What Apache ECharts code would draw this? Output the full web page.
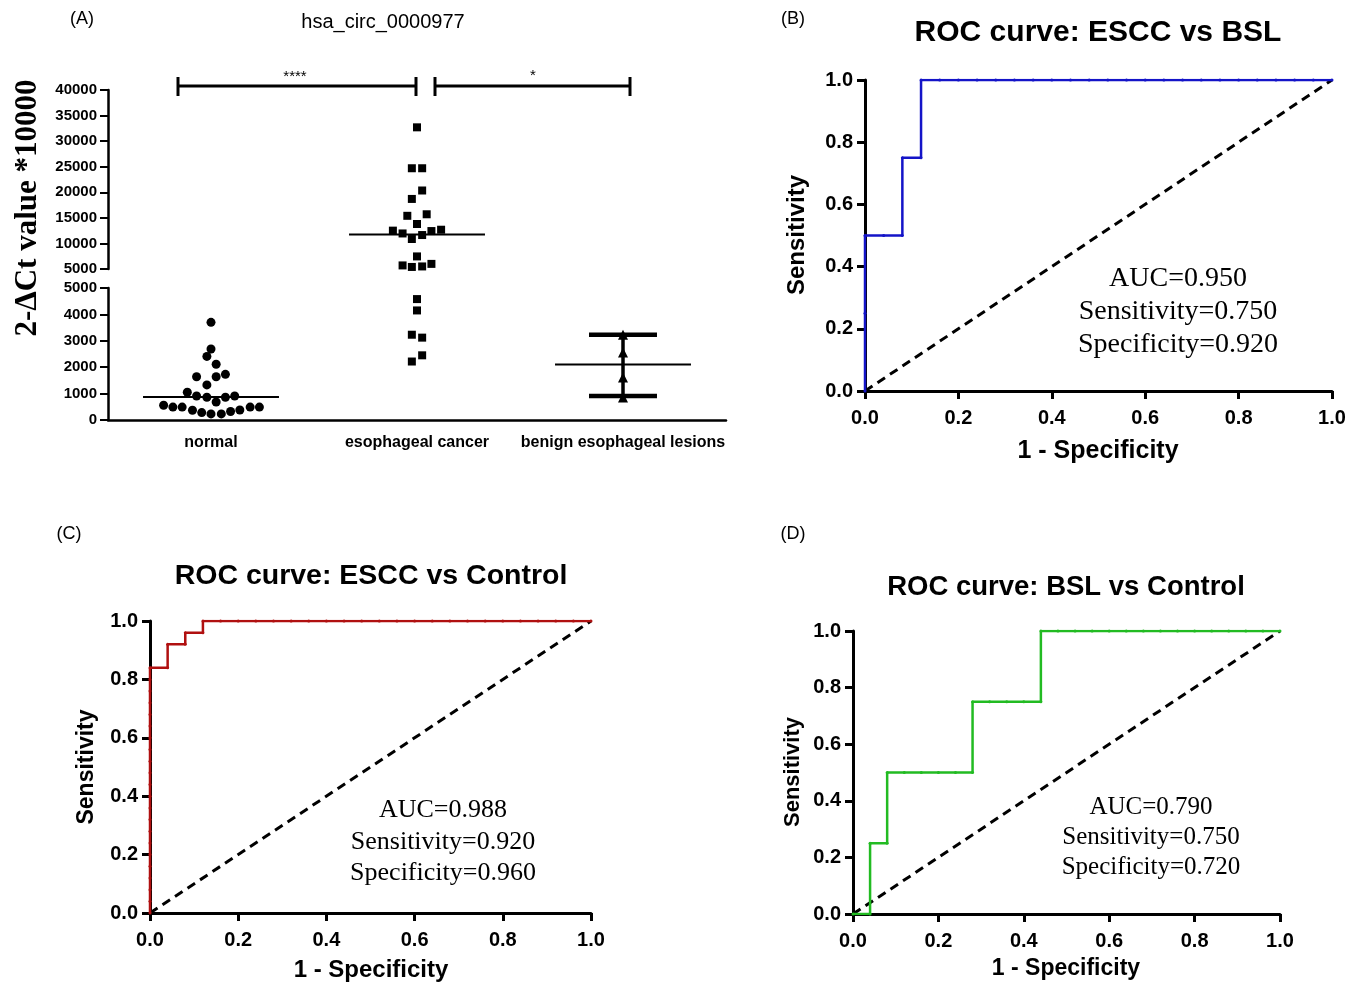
<!DOCTYPE html>
<html>
<head>
<meta charset="utf-8">
<script src="https://cdn.jsdelivr.net/npm/echarts@6/dist/echarts.min.js"></script>
<style>
html, body { margin: 0; padding: 0; background: #fff; }
#chart { width: 1359px; height: 984px; }
</style>
</head>
<body>
<div id="chart"></div>
<script>
// panel A: expression per group (jitter = horizontal offset inside the group column)
const groups = ['normal', 'esophageal cancer', 'benign esophageal lesions']
const normalValues = [3700, 2690, 2410, 2110, 1640, 1640, 1730, 1330, 1050, 910, 860, 860, 910, 680,
  560, 490, 490, 370, 280, 230, 230, 320, 380, 490, 490]
const normalJitter = [0, 0, -0.02, 0.025, -0.07, 0.025, 0.07, -0.02, -0.115, -0.07, -0.02, 0.07, 0.115, 0.025,
  -0.23, -0.185, -0.14, -0.09, -0.045, 0, 0.05, 0.095, 0.14, 0.19, 0.235]
const cancerValues = [32700, 24700, 24700, 20350, 18700, 15400, 15700, 13800, 12500, 11950, 10860, 11640, 12420,
  12680, 7460, 5700, 5400, 5500, 6000, 4580, 4150, 3230, 3120, 2450, 2215]
const cancerJitter = [0, -0.025, 0.025, 0.025, -0.025, -0.047, 0.047, 0, -0.117, -0.07, -0.025, 0.025, 0.07,
  0.117, 0, -0.07, -0.025, 0.025, 0.07, 0, 0, -0.025, 0.025, 0.025, -0.025]
const benignValues = [3230, 2555, 1610, 855]
const groupCenters = [870, 11760, 2100] // median, median, mean
const benignSD = [910, 3230]
const breakAt = 5000

// ROC curves: [1 - specificity, sensitivity]
const rocB = [[0, 0], [0, 0.25], [0, 0.5], [0.04, 0.5], [0.08, 0.5], [0.08, 0.75], [0.12, 0.75], [0.12, 1],
  [0.16, 1], [0.2, 1], [0.24, 1], [0.28, 1], [0.32, 1], [0.36, 1], [0.4, 1], [0.44, 1], [0.48, 1], [0.52, 1],
  [0.56, 1], [0.6, 1], [0.64, 1], [0.68, 1], [0.72, 1], [0.76, 1], [0.8, 1], [0.84, 1], [0.88, 1], [0.92, 1],
  [0.96, 1], [1, 1]]
const rocC = [[0, 0], [0, 0.04], [0, 0.08], [0, 0.12], [0, 0.16], [0, 0.2], [0, 0.24], [0, 0.28], [0, 0.32],
  [0, 0.36], [0, 0.4], [0, 0.44], [0, 0.48], [0, 0.52], [0, 0.56], [0, 0.6], [0, 0.64], [0, 0.68], [0, 0.72],
  [0, 0.76], [0, 0.8], [0, 0.84], [0.04, 0.84], [0.04, 0.92], [0.08, 0.92], [0.08, 0.96], [0.12, 0.96],
  [0.12, 1], [0.16, 1], [0.2, 1], [0.24, 1], [0.28, 1], [0.32, 1], [0.36, 1], [0.4, 1], [0.44, 1], [0.48, 1],
  [0.52, 1], [0.56, 1], [0.6, 1], [0.64, 1], [0.68, 1], [0.72, 1], [0.76, 1], [0.8, 1], [0.84, 1], [0.88, 1],
  [0.92, 1], [0.96, 1], [1, 1]]
const rocD = [[0, 0], [0.04, 0], [0.04, 0.25], [0.08, 0.25], [0.08, 0.5], [0.12, 0.5], [0.16, 0.5], [0.2, 0.5],
  [0.24, 0.5], [0.28, 0.5], [0.28, 0.75], [0.32, 0.75], [0.36, 0.75], [0.4, 0.75], [0.44, 0.75], [0.44, 1],
  [0.48, 1], [0.52, 1], [0.56, 1], [0.6, 1], [0.64, 1], [0.68, 1], [0.72, 1], [0.76, 1], [0.8, 1], [0.84, 1],
  [0.88, 1], [0.92, 1], [0.96, 1], [1, 1]]
const chance = [[0, 0], [1, 1]]

const sans = 'Liberation Sans, Arial, sans-serif'
const serif = 'Liberation Serif, Times New Roman, serif'

const chart = echarts.init(document.getElementById('chart'))

function hiddenX(gridIndex) {
  return { type: 'value', gridIndex, min: -0.5, max: 2.5, show: false, splitLine: { show: false } }
}

function aY(gridIndex, min, max, interval) {
  return {
    type: 'value', gridIndex, min, max, interval,
    axisLine: { show: true, onZero: false, lineStyle: { color: '#000', width: 2.5 } },
    axisTick: { show: true, length: 8, lineStyle: { color: '#000', width: 2 } },
    axisLabel: {
      color: '#000', fontWeight: 'bold', fontSize: 15, fontFamily: sans, margin: 11,
      formatter: v => String(v)
    },
    splitLine: { show: false }
  }
}

function rocAxis(type, gridIndex) {
  return {
    type: 'value', gridIndex, min: 0, max: 1, interval: 0.2,
    axisLine: { show: true, onZero: false, lineStyle: { color: '#000', width: 3 } },
    axisTick: { show: true, length: 8, lineStyle: { color: '#000', width: 3 } },
    axisLabel: {
      color: '#000', fontWeight: 'bold', fontSize: 20, fontFamily: sans,
      margin: type === 'x' ? 17 : 12,
      formatter: v => v.toFixed(1)
    },
    splitLine: { show: false }
  }
}

function seg(data, xAxisIndex, yAxisIndex, width) {
  return {
    type: 'line', data, xAxisIndex, yAxisIndex, symbol: 'none', z: 3,
    lineStyle: { color: '#000', width }
  }
}

function roc(data, xAxisIndex, yAxisIndex, color) {
  return [{
    type: 'line', data: chance, xAxisIndex, yAxisIndex, symbol: 'none',
    lineStyle: { color: '#000', width: 3, type: [9, 6] }
  }, {
    type: 'line', data, xAxisIndex, yAxisIndex, symbol: 'circle', symbolSize: 3, showSymbol: true,
    itemStyle: { color }, lineStyle: { color, width: 2.5 }
  }]
}

const normalPts = normalValues.map((v, i) => [0 + normalJitter[i], v])
const cancerPts = cancerValues.map((v, i) => [1 + cancerJitter[i], v])
const benignPts = benignValues.map(v => [2, v])
const dot = { color: '#000', opacity: 1 }

function txt(text, x, y, font, extra) {
  return Object.assign({
    type: 'text', x, y,
    style: { text, font, fill: '#000', textAlign: 'center', textVerticalAlign: 'middle' }
  }, extra || {})
}
function ln(x1, y1, x2, y2, w) {
  return { type: 'line', shape: { x1, y1, x2, y2 }, style: { stroke: '#000', lineWidth: w } }
}

chart.setOption({
  animation: false,
  backgroundColor: '#fff',
  grid: [
    { left: 108, top: 90, width: 618, height: 179 },
    { left: 108, top: 288, width: 618, height: 132 },
    { left: 865, top: 80, width: 467, height: 311 },
    { left: 150, top: 621, width: 441, height: 292 },
    { left: 853, top: 631, width: 427, height: 283 }
  ],
  xAxis: [
    hiddenX(0),
    hiddenX(1),
    {
      type: 'category', gridIndex: 1, data: groups, position: 'bottom',
      axisLine: { lineStyle: { color: '#000', width: 2.5 } },
      axisTick: { alignWithLabel: true, length: 8, lineStyle: { color: '#000', width: 2 } },
      axisLabel: { color: '#000', fontWeight: 'bold', fontSize: 16, fontFamily: sans, margin: 15, interval: 0 }
    },
    rocAxis('x', 2),
    rocAxis('x', 3),
    rocAxis('x', 4)
  ],
  yAxis: [
    aY(0, breakAt, 40000, 5000),
    aY(1, 0, breakAt, 1000),
    rocAxis('y', 2),
    rocAxis('y', 3),
    rocAxis('y', 4)
  ],
  series: [
    { type: 'scatter', xAxisIndex: 1, yAxisIndex: 1, data: normalPts, symbol: 'circle', symbolSize: 9,
      itemStyle: dot },
    { type: 'scatter', xAxisIndex: 0, yAxisIndex: 0, data: cancerPts.filter(p => p[1] > breakAt),
      symbol: 'rect', symbolSize: 8, itemStyle: dot },
    { type: 'scatter', xAxisIndex: 1, yAxisIndex: 1, data: cancerPts.filter(p => p[1] <= breakAt),
      symbol: 'rect', symbolSize: 8, itemStyle: dot },
    { type: 'scatter', xAxisIndex: 1, yAxisIndex: 1, data: benignPts, symbol: 'triangle', symbolSize: 10,
      itemStyle: dot },
    seg([[-0.33, groupCenters[0]], [0.33, groupCenters[0]]], 1, 1, 2),
    seg([[0.67, groupCenters[1]], [1.33, groupCenters[1]]], 0, 0, 2),
    seg([[1.67, groupCenters[2]], [2.33, groupCenters[2]]], 1, 1, 2),
    seg([[2, benignSD[0]], [2, benignSD[1]]], 1, 1, 3.5),
    seg([[1.835, benignSD[0]], [2.165, benignSD[0]]], 1, 1, 4.5),
    seg([[1.835, benignSD[1]], [2.165, benignSD[1]]], 1, 1, 4.5),
    ...roc(rocB, 3, 2, '#1414c8'),
    ...roc(rocC, 4, 3, '#b01010'),
    ...roc(rocD, 5, 4, '#22bb22')
  ],
  graphic: [
    txt('(A)', 82, 19, '18px ' + sans),
    txt('hsa_circ_0000977', 383, 22, '20px ' + sans),
    txt('2-ΔCt value *10000', 28, 208, 'bold 31px ' + serif, { rotation: Math.PI / 2 }),
    ln(178, 86, 416, 86, 3), ln(178, 77, 178, 96, 3), ln(416, 77, 416, 96, 3),
    ln(435, 86, 630, 86, 3), ln(435, 77, 435, 96, 3), ln(630, 77, 630, 96, 3),
    txt('****', 295, 77, '15px ' + sans),
    txt('*', 533, 76, '15px ' + sans),

    txt('(B)', 793, 19, '18px ' + sans),
    txt('ROC curve: ESCC vs BSL', 1098, 33, 'bold 30px ' + sans),
    txt('Sensitivity', 797, 235, 'bold 24px ' + sans, { rotation: Math.PI / 2 }),
    txt('1 - Specificity', 1098, 451, 'bold 25px ' + sans),
    txt('AUC=0.950', 1178, 279, '28px ' + serif),
    txt('Sensitivity=0.750', 1178, 312, '28px ' + serif),
    txt('Specificity=0.920', 1178, 345, '28px ' + serif),

    txt('(C)', 69, 534, '18px ' + sans),
    txt('ROC curve: ESCC vs Control', 371, 576, 'bold 28.5px ' + sans),
    txt('Sensitivity', 87, 767, 'bold 23px ' + sans, { rotation: Math.PI / 2 }),
    txt('1 - Specificity', 371, 970, 'bold 24px ' + sans),
    txt('AUC=0.988', 443, 810, '26px ' + serif),
    txt('Sensitivity=0.920', 443, 842, '26px ' + serif),
    txt('Specificity=0.960', 443, 873, '26px ' + serif),

    txt('(D)', 793, 534, '18px ' + sans),
    txt('ROC curve: BSL vs Control', 1066, 587, 'bold 27.5px ' + sans),
    txt('Sensitivity', 793, 772, 'bold 22px ' + sans, { rotation: Math.PI / 2 }),
    txt('1 - Specificity', 1066, 969, 'bold 23px ' + sans),
    txt('AUC=0.790', 1151, 807, '25px ' + serif),
    txt('Sensitivity=0.750', 1151, 837, '25px ' + serif),
    txt('Specificity=0.720', 1151, 867, '25px ' + serif)
  ]
})
</script>
</body>
</html>
